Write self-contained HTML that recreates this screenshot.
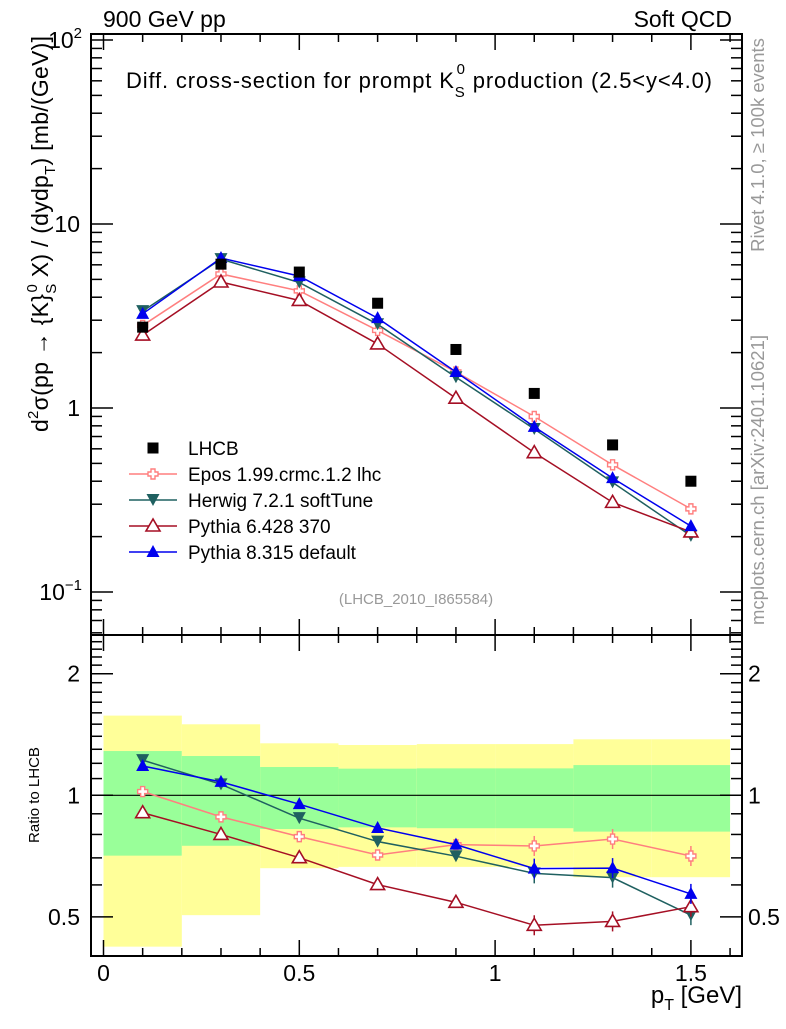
<!DOCTYPE html>
<html><head><meta charset="utf-8"><style>
html,body{margin:0;padding:0;background:#fff;}
svg text{font-family:"Liberation Sans",Arial,sans-serif;}
</style></head><body>
<svg id="chart" width="786" height="1024" viewBox="0 0 786 1024" xmlns="http://www.w3.org/2000/svg">
<rect x="0" y="0" width="786" height="1024" fill="#fff"/>
<g id="bands"></g>
<g id="lower"></g>
<g id="upper"></g>
<g id="axes"></g>
<text x="103" y="27" font-size="23">900 GeV pp</text>
<text x="732" y="27" font-size="23" text-anchor="end">Soft QCD</text>
<text x="126" y="88" font-size="22" textLength="586" lengthAdjust="spacing">Diff. cross-section for prompt K<tspan font-size="15" dy="9">S</tspan><tspan font-size="15" dy="-23" dx="-9">0</tspan><tspan dy="14"> production (2.5&lt;y&lt;4.0)</tspan></text>
<text x="416" y="604" font-size="15" fill="#999" text-anchor="middle">(LHCB_2010_I865584)</text>
<text transform="translate(764,145) rotate(-90)" font-size="18.5" fill="#999" text-anchor="middle">Rivet 4.1.0, ≥ 100k events</text>
<text transform="translate(764,480) rotate(-90)" font-size="18.5" fill="#999" text-anchor="middle">mcplots.cern.ch [arXiv:2401.10621]</text>
<text transform="translate(48,432) rotate(-90)" font-size="23" textLength="396" lengthAdjust="spacing">d<tspan font-size="15" dy="-10">2</tspan><tspan dy="10">σ(pp → {K}</tspan><tspan font-size="15" dy="8">S</tspan><tspan font-size="15" dy="-19" dx="-9">0</tspan><tspan dy="11"> X) / (dydp</tspan><tspan font-size="15" dy="7">T</tspan><tspan dy="-7">) [mb/(GeV)]</tspan></text>
<text transform="translate(39,795) rotate(-90)" font-size="15" text-anchor="middle">Ratio to LHCB</text>
<text x="742" y="1003" font-size="24" text-anchor="end">p<tspan font-size="16" dy="7">T</tspan><tspan dy="-7"> [GeV]</tspan></text>
<g id="legend"></g>
</svg>
<script>
const xBins = [0.1, 0.3, 0.5, 0.7, 0.9, 1.1, 1.3, 1.5];
const lhcb = [2.75, 6.05, 5.48, 3.71, 2.08, 1.20, 0.63, 0.40];
const epos = [2.81, 5.35, 4.33, 2.64, 1.57, 0.899, 0.491, 0.283];
const herwig = [3.36, 6.44, 4.81, 2.85, 1.47, 0.769, 0.394, 0.202];
const pythia6 = [2.49, 4.84, 3.84, 2.23, 1.13, 0.572, 0.307, 0.212];
const pythia8 = [3.25, 6.53, 5.21, 3.08, 1.57, 0.79, 0.416, 0.228];
const bandEdges = [0, 0.2, 0.4, 0.6, 0.8, 1.0, 1.2, 1.4, 1.6];
const yellowHi = [1.575, 1.499, 1.345, 1.332, 1.339, 1.339, 1.376, 1.376];
const yellowLo = [0.422, 0.505, 0.66, 0.665, 0.665, 0.665, 0.627, 0.627];
const greenHi = [1.287, 1.251, 1.175, 1.164, 1.166, 1.166, 1.188, 1.188];
const greenLo = [0.709, 0.75, 0.825, 0.833, 0.829, 0.829, 0.813, 0.813];
const xTicks = [0, 0.5, 1, 1.5];
const xTickLabels = ['0', '0.5', '1', '1.5'];
const ratioTicks = [0.5, 1, 2];
const ratioTickLabels = ['0.5', '1', '2'];

const NS = 'http://www.w3.org/2000/svg';
const L = 91, R = 742, T = 34, MID = 635, B = 956;
const X = v => 103.5 + v * 391.6;
const Y = v => 224 + (1 - Math.log10(v)) * 184;
const YR = r => 795.3 - 121.6 * Math.log2(r);
function mk(parent, tag, attrs) {
  const e = document.createElementNS(NS, tag);
  for (const k in attrs) e.setAttribute(k, attrs[k]);
  parent.appendChild(e);
  return e;
}
const bands = document.getElementById('bands');
for (let i = 0; i < yellowHi.length; i++) {
  const x0 = X(bandEdges[i]), x1 = X(bandEdges[i + 1]);
  const yb = mk(bands, 'rect', {x: x0, y: YR(yellowHi[i]), width: x1 - x0, height: YR(yellowLo[i]) - YR(yellowHi[i]), fill: '#ffff99'});
  
  
  const gb = mk(bands, 'rect', {x: x0, y: YR(greenHi[i]), width: x1 - x0, height: YR(greenLo[i]) - YR(greenHi[i]), fill: '#99ff99'});
  
  
}
const lower = document.getElementById('lower');
const one = mk(lower, 'line', {x1: L, x2: R, y1: YR(1), y2: YR(1), stroke: '#000', 'stroke-width': 1.2});



function marker(g, type, x, y, color) {
  let e;
  if (type === 'square') e = mk(g, 'rect', {x: x - 5.5, y: y - 5.5, width: 11, height: 11, fill: '#000'});
  else if (type === 'up') e = mk(g, 'polygon', {points: `${x},${y-7} ${x-6.5},${y+5} ${x+6.5},${y+5}`, fill: color});
  else if (type === 'down') e = mk(g, 'polygon', {points: `${x},${y+6} ${x-6.5},${y-6} ${x+6.5},${y-6}`, fill: color});
  else if (type === 'open') e = mk(g, 'polygon', {points: `${x},${y-7} ${x-7},${y+5} ${x+7},${y+5}`, fill: '#fff', stroke: color, 'stroke-width': 1.6});
  else e = mk(g, 'path', {d: `M${x-2},${y-5}h4v3h3v4h-3v3h-4v-3h-3v-4h3z`, fill: '#fff', stroke: color, 'stroke-width': 1.4});
  return e;
}
const series = [
  {name: 'epos', vals: epos, color: '#ff7f7f', m: 'cross', label: 'Epos 1.99.crmc.1.2 lhc'},
  {name: 'herwig', vals: herwig, color: '#1f6060', m: 'down', label: 'Herwig 7.2.1 softTune'},
  {name: 'pythia6', vals: pythia6, color: '#a50f24', m: 'open', label: 'Pythia 6.428 370'},
  {name: 'pythia8', vals: pythia8, color: '#0000ee', m: 'up', label: 'Pythia 8.315 default'}
];
const upper = document.getElementById('upper');
series.forEach(s => {
  const gu = mk(upper, 'g', {});
  
  
  const gl = mk(lower, 'g', {});
  
  
  const pu = xBins.map((x, i) => X(x) + ',' + Y(s.vals[i])).join(' ');
  const pl = xBins.map((x, i) => X(x) + ',' + YR(s.vals[i] / lhcb[i])).join(' ');
  const l1 = mk(gu, 'polyline', {points: pu, fill: 'none', stroke: s.color, 'stroke-width': 1.5});
  
  
  const l2 = mk(gl, 'polyline', {points: pl, fill: 'none', stroke: s.color, 'stroke-width': 1.5});
  
  
  xBins.forEach((x, i) => {
    const a = marker(gu, s.m, X(x), Y(s.vals[i]), s.color);
    
    
    const ry = YR(s.vals[i] / lhcb[i]);
    if (i >= 5) {
      const eb = mk(gl, 'line', {x1: X(x), x2: X(x), y1: ry - 10, y2: ry + 10, stroke: s.color, 'stroke-width': 1.5});
      
      
    }
    const b = marker(gl, s.m, X(x), ry, s.color);
    
    
  });
});
const gd = mk(upper, 'g', {});


xBins.forEach((x, i) => {
  const m = marker(gd, 'square', X(x), Y(lhcb[i]), '#000');
  
  
});

// axes
const ax = document.getElementById('axes');
const frame = (y0, y1) => mk(ax, 'rect', {x: L, y: y0, width: R - L, height: y1 - y0, fill: 'none', stroke: '#000', 'stroke-width': 2});
const f1 = frame(T, MID);  
const f2 = frame(MID, B);  
function tick(x1, y1, x2, y2) { mk(ax, 'line', {x1, y1, x2, y2, stroke: '#000', 'stroke-width': 1.5}); }
for (let v = 0; v <= 1.6001; v += 0.1) {
  const major = Math.abs(v * 2 - Math.round(v * 2)) < 1e-6;
  const len = major ? 16 : 8;
  const x = X(v);
  tick(x, T, x, T + len); tick(x, MID, x, MID - len);
  tick(x, MID, x, MID + len); tick(x, B, x, B - len);
}
xTicks.forEach((v, i) => {
  const t = mk(ax, 'text', {x: X(v), y: 981, 'font-size': 23, 'text-anchor': 'middle'});
  t.textContent = xTickLabels[i];
  
  
});
for (let d = -2; d <= 2; d++) {
  for (let k = 1; k <= 9; k++) {
    const v = k * Math.pow(10, d);
    const y = Y(v);
    if (y < T || y > MID) continue;
    const len = k === 1 ? 22 : 11;
    tick(L, y, L + len, y); tick(R, y, R - len, y);
  }
}
[[100, '10', '2'], [10, '10', ''], [1, '1', ''], [0.1, '10', '−1']].forEach(([v, b, e]) => {
  const t = mk(ax, 'text', {x: 80, y: Y(v) + 8, 'font-size': 23, 'text-anchor': 'end'});
  t.textContent = b;
  if (e) { const s = mk(t, 'tspan', {dy: -10, 'font-size': 15}); s.textContent = e; t.setAttribute('x', 82); }
  
  
});
[0.4, 0.5, 0.6, 0.7, 0.8, 0.9, 1, 1.1, 1.2, 1.3, 1.4, 1.5, 1.6, 1.7, 1.8, 1.9, 2, 2.1, 2.2, 2.3, 2.4].forEach(v => {
  const y = YR(v);
  if (y < MID || y > B) return;
  const major = ratioTicks.includes(v);
  const len = major ? 22 : 11;
  tick(L, y, L + len, y); tick(R, y, R - len, y);
});
ratioTicks.forEach((v, i) => {
  const t = mk(ax, 'text', {x: 80, y: YR(v) + 8, 'font-size': 23, 'text-anchor': 'end'});
  t.textContent = ratioTickLabels[i];
  
  
  const t2 = mk(ax, 'text', {x: 748, y: YR(v) + 8, 'font-size': 23});
  t2.textContent = ratioTickLabels[i];
  
  
});

// legend
const lg = document.getElementById('legend');
const entries = [{label: 'LHCB', m: 'square', color: '#000', line: false}].concat(series.map(s => ({label: s.label, m: s.m, color: s.color, line: true})));
entries.forEach((en, i) => {
  const y = 448 + i * 26;
  const g = mk(lg, 'g', {});
  
  
  if (en.line) mk(g, 'line', {x1: 129, x2: 177, y1: y, y2: y, stroke: en.color, 'stroke-width': 1.5});
  marker(g, en.m, 153, y, en.color);
  const t = mk(g, 'text', {x: 188, y: y + 7, 'font-size': 19});
  t.textContent = en.label;
});
</script>
</body></html>
